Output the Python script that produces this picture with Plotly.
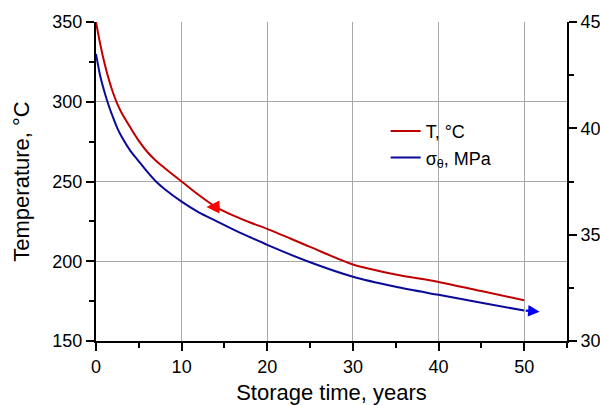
import plotly.graph_objects as go

# Storage time (years)
time_years = [0, 0.5, 1, 1.5, 2, 2.5, 3, 4, 5, 6, 7, 8, 10, 12, 14, 16, 18, 20,
              25, 30, 35, 40, 45, 50]
# Cladding temperature, °C
temperature_c = [350, 336, 324, 314, 305.5, 298.5, 293, 284, 275.5, 268.5, 263,
                 258.5, 250, 241.5, 234, 228.8, 224.3, 220.3, 209, 198, 191.7,
                 187, 181.3, 175.5]
# Hoop stress sigma_theta, MPa
hoop_stress_mpa = [43.5, 42.45, 41.7, 41.05, 40.5, 40.0, 39.6, 38.95, 38.45,
                   37.95, 37.5, 37.15, 36.55, 36.05, 35.65, 35.25, 34.88, 34.52,
                   33.7, 33.02, 32.55, 32.17, 31.8, 31.43]

x_ticks = [0, 10, 20, 30, 40, 50]
y_ticks = [150, 200, 250, 300, 350]
y2_ticks = [30, 35, 40, 45]

FONT = "Liberation Sans, Arial, sans-serif"
RED = "#c00000"
BLUE = "#0a0a9a"

fig = go.Figure()
fig.add_trace(go.Scatter(
    x=time_years, y=temperature_c, mode="lines", name="T, °C",
    line=dict(color=RED, width=2, shape="spline", smoothing=0.8),
    cliponaxis=False,
))
fig.add_trace(go.Scatter(
    x=time_years, y=hoop_stress_mpa, mode="lines", name="σ<sub>θ</sub>, MPa",
    line=dict(color=BLUE, width=2, shape="spline", smoothing=0.8),
    yaxis="y2", cliponaxis=False,
))

# Arrows pointing each curve to its axis
fig.add_annotation(x=12.9, y=234.0, ax=14.6, ay=234.0, xref="x", yref="y",
                   axref="x", ayref="y", showarrow=True, arrowhead=2,
                   arrowsize=1.0, arrowwidth=2.6, arrowcolor="#ff0000", text="")
fig.add_annotation(x=51.8, y=31.38, ax=50, ay=31.43, xref="x", yref="y2",
                   axref="x", ayref="y2", showarrow=True, arrowhead=2,
                   arrowsize=1.0, arrowwidth=2.3, arrowcolor="#0000ee", text="")

axis_common = dict(
    showline=True, linecolor="black", linewidth=2,
    ticks="outside", ticklen=8, tickwidth=2, tickcolor="black",
    tickfont=dict(family=FONT, size=18, color="black"),
    zeroline=False, automargin=False,
)

fig.update_layout(
    width=600, height=405,
    margin=dict(l=96, r=33, t=22, b=64),
    paper_bgcolor="white", plot_bgcolor="white",
    font=dict(family=FONT, color="black"),
    showlegend=True,
    legend=dict(x=0.615, y=0.715, xanchor="left", yanchor="top",
                bgcolor="rgba(0,0,0,0)", font=dict(family=FONT, size=18),
                tracegroupgap=0, itemwidth=30),
    xaxis=dict(
        range=[0, 55], tickvals=x_ticks,
        showgrid=True, gridcolor="#a8a8a8", gridwidth=1,
        minor=dict(dtick=5, tick0=0, ticks="outside", ticklen=5, tickwidth=2,
                   tickcolor="black", showgrid=False),
        title=dict(text="Storage time, years", font=dict(family=FONT, size=22),
                   standoff=14),
        **axis_common,
    ),
    yaxis=dict(
        range=[150, 350], tickvals=y_ticks,
        showgrid=True, gridcolor="#a8a8a8", gridwidth=1,
        minor=dict(dtick=25, tick0=150, ticks="outside", ticklen=5, tickwidth=2,
                   tickcolor="black", showgrid=False),
        title=dict(text="Temperature, °C", font=dict(family=FONT, size=22),
                   standoff=17),
        **axis_common,
    ),
    yaxis2=dict(
        range=[30, 45], tickvals=y2_ticks, overlaying="y", side="right",
        showgrid=False,
        minor=dict(dtick=2.5, tick0=30, ticks="outside", ticklen=5, tickwidth=2,
                   tickcolor="black", showgrid=False),
        **axis_common,
    ),
)

fig.write_html("out.html")
